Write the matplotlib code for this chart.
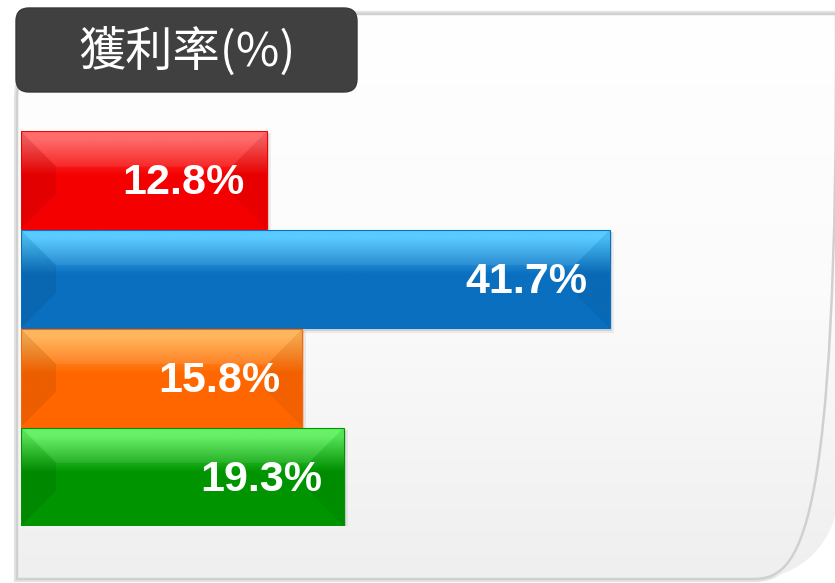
import numpy as np
import matplotlib.pyplot as plt
from matplotlib.patches import FancyBboxPatch, Polygon, Rectangle, PathPatch
from matplotlib.path import Path
from matplotlib.colors import LinearSegmentedColormap

plt.rcParams['font.family'] = ['Noto Sans CJK TC', 'DejaVu Sans']

title = "獲利率(%)"
values = [12.8, 41.7, 15.8, 19.3]
labels = ["12.8%", "41.7%", "15.8%", "19.3%"]
base_colors = ["#f50000", "#0a6fbf", "#ff6600", "#009400"]
top_colors = ["#ff6060", "#4cc6ff", "#ffb050", "#5cf05c"]

# value axis does not start at zero in the original graphic
axis_min = -7.9
axis_max = 60.7

W, H = 835, 583
fig = plt.figure(figsize=(W / 100, H / 100), dpi=100)
fig.patch.set_facecolor("white")

# background: panel and title tab, drawn in pixel units
bg = fig.add_axes([0, 0, 1, 1])
bg.set_xlim(0, W)
bg.set_ylim(H, 0)
bg.axis("off")


def panel_path(l, t, r, b, rad):
    k = 0.5523 * rad
    verts = [(l, t + rad), (l, t + rad - k), (l + rad - k, t), (l + rad, t),
             (r, t), (r, b - rad), (r, b - rad + k), (r - rad + k, b), (r - rad, b),
             (l, b), (l, t + rad)]
    codes = [Path.MOVETO, Path.CURVE4, Path.CURVE4, Path.CURVE4,
             Path.LINETO, Path.LINETO, Path.CURVE4, Path.CURVE4, Path.CURVE4,
             Path.LINETO, Path.CLOSEPOLY]
    return Path(verts, codes)


pp = panel_path(17, 14, 838, 579, 85)
bg.add_patch(PathPatch(pp, fc="none", ec="#e4e4e4", lw=4.5, zorder=1))
panel = PathPatch(pp, fc="none", ec="#d0d0d0", lw=1.8, zorder=3)
bg.add_patch(panel)
grad = np.linspace(0, 1, 256).reshape(-1, 1)
pcmap = LinearSegmentedColormap.from_list("panel", ["#ffffff", "#fbfbfb", "#efefef"])
im = bg.imshow(grad, extent=(17, 840, 579, 14), origin="upper", cmap=pcmap,
               aspect="auto", zorder=2)
im.set_clip_path(panel)

tab = FancyBboxPatch((16, 8), 341, 84, boxstyle="round,pad=0,rounding_size=13",
                     fc="#404040", ec="#383838", lw=1, zorder=5)
bg.add_patch(tab)
bg.text(187, 52, title, color="white", fontsize=34, ha="center", va="center", zorder=6)
bg.set_xlim(0, W)
bg.set_ylim(H, 0)

# bar chart
ax = fig.add_axes([21 / W, (H - 526) / H, (W - 21) / W, 395 / H])
ax.set_facecolor("none")
ax.axis("off")
y = np.arange(len(values))
ax.set_xlim(axis_min, axis_max)
ax.set_ylim(len(values) - 0.5, -0.5)

bars = ax.barh(y, [v - axis_min for v in values], left=axis_min, height=0.99,
               color=base_colors, zorder=3)

to_data = ax.transData.inverted()
bev = 35
for bar, top, base in zip(bars, top_colors, base_colors):
    x0, x1 = bar.get_x(), bar.get_x() + bar.get_width()
    ya, yb = bar.get_y(), bar.get_y() + bar.get_height()
    # display corners (top = larger display y)
    (dx0, dtop), (dx1, dbot) = ax.transData.transform([(x0, ya), (x1, yb)])

    # soft drop shadow
    for off, a in [(5, 0.06), (3, 0.10)]:
        sh = to_data.transform([(dx0 + 1, dbot - off), (dx1 + off - 1, dtop - 2)])
        ax.add_patch(Rectangle((sh[0][0], sh[1][1]), sh[1][0] - sh[0][0],
                               sh[0][1] - sh[1][1], fc="#000000", alpha=a,
                               ec="none", zorder=1))

    # vertical gradient
    cmap = LinearSegmentedColormap.from_list("b", [(0, top), (0.08, top), (0.45, base), (1, base)])
    gi = ax.imshow(grad, extent=(x0, x1, yb, ya), origin="upper", cmap=cmap,
                   aspect="auto", zorder=4)
    gi.set_clip_path(bar)

    # bevel facets
    ix0, ix1, itop, ibot = dx0 + bev, dx1 - bev, dtop - bev, dbot + bev
    facets = [
        ([(dx0, dtop), (ix0, itop), (ix0, ibot), (dx0, dbot)], "black", 0.07),
        ([(dx1, dtop), (ix1, itop), (ix1, ibot), (dx1, dbot)], "black", 0.05),
        ([(dx0, dtop), (dx1, dtop), (ix1, itop), (ix0, itop)], "white", 0.08),
    ]
    for pts, col, a in facets:
        ax.add_patch(Polygon(to_data.transform(pts), closed=True, fc=col, alpha=a,
                             ec="none", zorder=5))
    ax.add_patch(Rectangle((x0, ya), x1 - x0, yb - ya, fc="none", ec=base, lw=0.8, zorder=6))

for i, (v, lab) in enumerate(zip(values, labels)):
    ax.annotate(lab, xy=(v, i), xytext=(-22, -3), textcoords="offset pixels",
                ha="right", va="center", fontsize=31, fontweight="bold",
                color="white", family="Liberation Sans", zorder=7)

ax.set_xlim(axis_min, axis_max)
ax.set_ylim(len(values) - 0.5, -0.5)

fig.savefig("out.png", dpi=100)
